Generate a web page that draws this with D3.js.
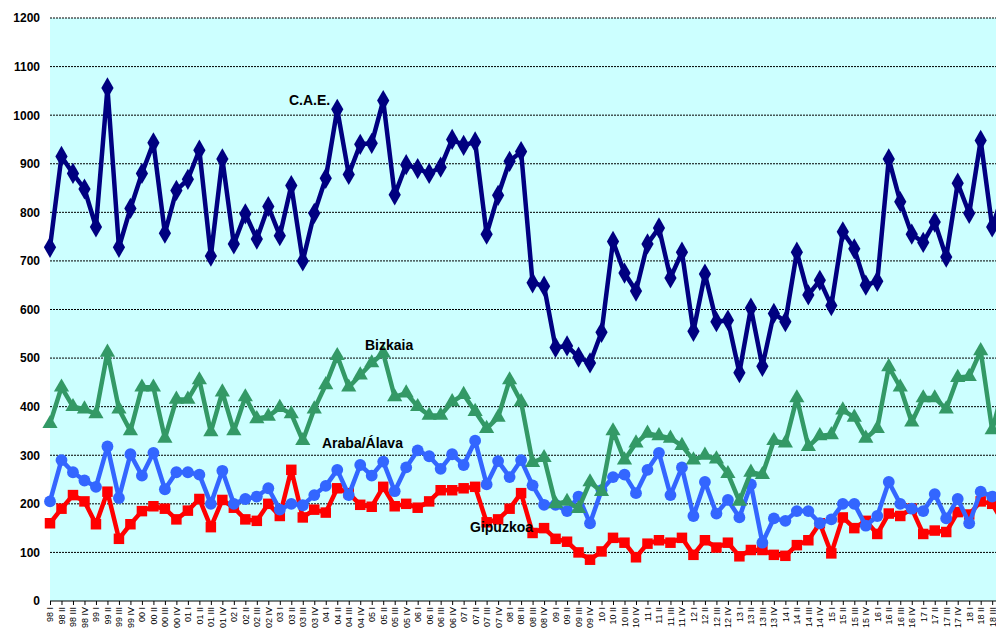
<!DOCTYPE html>
<html>
<head>
<meta charset="utf-8">
<script src="https://cdn.jsdelivr.net/npm/d3@7"></script>
<style>
body { margin: 0; background: #fff; }
svg { font-family: Arial, "Liberation Sans", sans-serif; }
</style>
</head>
<body>
<svg id="chart" width="996" height="636"></svg>
<script>
// quarters 1998 I .. 2018 IV
var years = d3.range(1998, 2019);
var quarterNames = ["I", "II", "III", "IV"];
var quarters = [];
years.forEach(function(y) {
    quarterNames.forEach(function(q) { quarters.push(String(y).slice(2) + " " + q); });
});

var cae = [728,915,880,848,770,1056,728,808,880,943,757,845,868,928,710,910,735,797,745,812,
    752,855,700,798,870,1012,878,940,942,1030,836,898,890,880,893,950,938,945,755,835,
    905,925,655,648,522,525,502,490,553,740,675,638,735,768,665,718,555,673,575,578,
    470,603,483,592,575,718,630,660,608,760,725,650,658,910,822,755,738,780,708,860,
    798,948,770,840];
var bizkaia = [365,440,400,395,385,512,395,350,440,440,335,415,415,455,348,430,350,420,375,380,
    398,385,330,395,445,505,440,465,490,510,420,428,400,382,382,410,425,390,355,378,
    455,410,285,295,200,205,190,245,225,350,290,325,345,340,335,320,290,300,292,262,
    205,265,260,330,325,418,318,340,342,393,378,335,355,482,440,368,418,418,395,460,
    462,515,352,440];
var araba = [205,290,265,248,235,318,212,302,258,305,230,265,265,260,200,268,200,210,215,232,
    188,200,197,218,237,270,218,280,258,287,226,275,310,298,272,302,280,330,240,288,
    255,290,238,198,198,185,215,160,228,255,260,222,270,305,218,275,175,245,180,208,
    172,240,120,170,165,185,185,160,168,200,200,155,175,245,200,190,185,220,170,210,
    160,225,215,215];
var gipuzkoa = [160,190,218,205,158,225,128,158,185,195,190,168,186,210,152,208,192,168,165,200,
    175,270,172,188,182,232,222,198,194,235,195,200,192,205,228,228,232,235,162,168,
    190,222,140,150,128,122,100,85,102,130,120,90,118,125,120,130,95,125,110,120,
    92,105,105,95,93,115,125,160,98,172,150,165,138,180,175,190,138,145,142,183,
    178,205,200,160];
var yTicks = d3.range(0, 1201, 100);

var svg = d3.select("#chart");
var margins = { top: 18, left: 50, bottom: 35 };
var plotRight = 996;
var graphHeight = 636 - margins.top - margins.bottom;

var xScale = d3.scaleLinear().domain([0, 83]).range([margins.left, margins.left + 83 * 11.49]);
var yScale = d3.scaleLinear().domain([0, 1200]).range([margins.top + graphHeight, margins.top]);

svg.append("rect")
    .attr("x", margins.left).attr("y", margins.top)
    .attr("width", plotRight - margins.left).attr("height", graphHeight)
    .attr("fill", "#ccffff");

// gridlines
svg.append("g").selectAll("line")
    .data(yTicks.filter(function(d) { return d > 0; }))
    .enter().append("line")
    .attr("x1", margins.left).attr("x2", plotRight)
    .attr("y1", function(d) { return yScale(d); })
    .attr("y2", function(d) { return yScale(d); })
    .attr("stroke", "#000").attr("stroke-width", 1).attr("stroke-dasharray", "2,1");

var yAxis = svg.append("g")
    .attr("transform", "translate(" + margins.left + ",0)")
    .call(d3.axisLeft(yScale).tickValues(yTicks).tickSize(0).tickPadding(10).tickFormat(d3.format("d")));
yAxis.select(".domain").remove();
yAxis.selectAll("text").style("font-size", "12px").style("font-weight", "bold").attr("fill", "#000");

var xAxis = svg.append("g")
    .attr("transform", "translate(0," + yScale(0) + ")")
    .call(d3.axisBottom(xScale).tickValues(d3.range(0, 83)).tickSize(4)
        .tickFormat(function(i) { return quarters[i]; }));
xAxis.select(".domain").attr("d", "M" + margins.left + ",0H" + plotRight);
xAxis.selectAll("text")
    .style("font-size", "9px")
    .attr("fill", "#000")
    .attr("transform", "rotate(-90)")
    .attr("text-anchor", "end")
    .attr("x", -6).attr("y", 0).attr("dy", "0.32em");

svg.append("clipPath").attr("id", "plotClip").append("rect")
    .attr("x", margins.left - 10).attr("y", 0)
    .attr("width", plotRight - margins.left + 10).attr("height", 636);

var series = [
    { name: "Gipuzkoa", values: gipuzkoa, color: "#ff0000", symbol: d3.symbolSquare, size: 110 },
    { name: "Araba/Álava", values: araba, color: "#3366ff", symbol: d3.symbolCircle, size: 110 },
    { name: "Bizkaia", values: bizkaia, color: "#339966", symbol: d3.symbolTriangle, size: 100 },
    { name: "C.A.E.", values: cae, color: "#000080", symbol: d3.symbolDiamond, size: 130 }
];

var line = d3.line()
    .x(function(d, i) { return xScale(i); })
    .y(function(d) { return yScale(d); });

var plot = svg.append("g").attr("clip-path", "url(#plotClip)");
series.forEach(function(s) {
    var g = plot.append("g");
    g.append("path").datum(s.values)
        .attr("d", line).attr("fill", "none")
        .attr("stroke", s.color).attr("stroke-width", 4.5).attr("stroke-linejoin", "round");
    g.selectAll(".pt").data(s.values).enter().append("path")
        .attr("class", "pt")
        .attr("d", d3.symbol().type(s.symbol).size(s.size))
        .attr("transform", function(d, i) { return "translate(" + xScale(i) + "," + yScale(d) + ")"; })
        .attr("fill", s.color);
});

var labels = [
    { text: "C.A.E.", x: 289, y: 105 },
    { text: "Bizkaia", x: 365, y: 350 },
    { text: "Araba/Álava", x: 322, y: 448 },
    { text: "Gipuzkoa", x: 470, y: 532 }
];
svg.selectAll(".lbl").data(labels).enter().append("text")
    .attr("class", "lbl")
    .attr("x", function(d) { return d.x; })
    .attr("y", function(d) { return d.y; })
    .style("font-size", "14px").style("font-weight", "bold")
    .text(function(d) { return d.text; });
</script>
</body>
</html>
